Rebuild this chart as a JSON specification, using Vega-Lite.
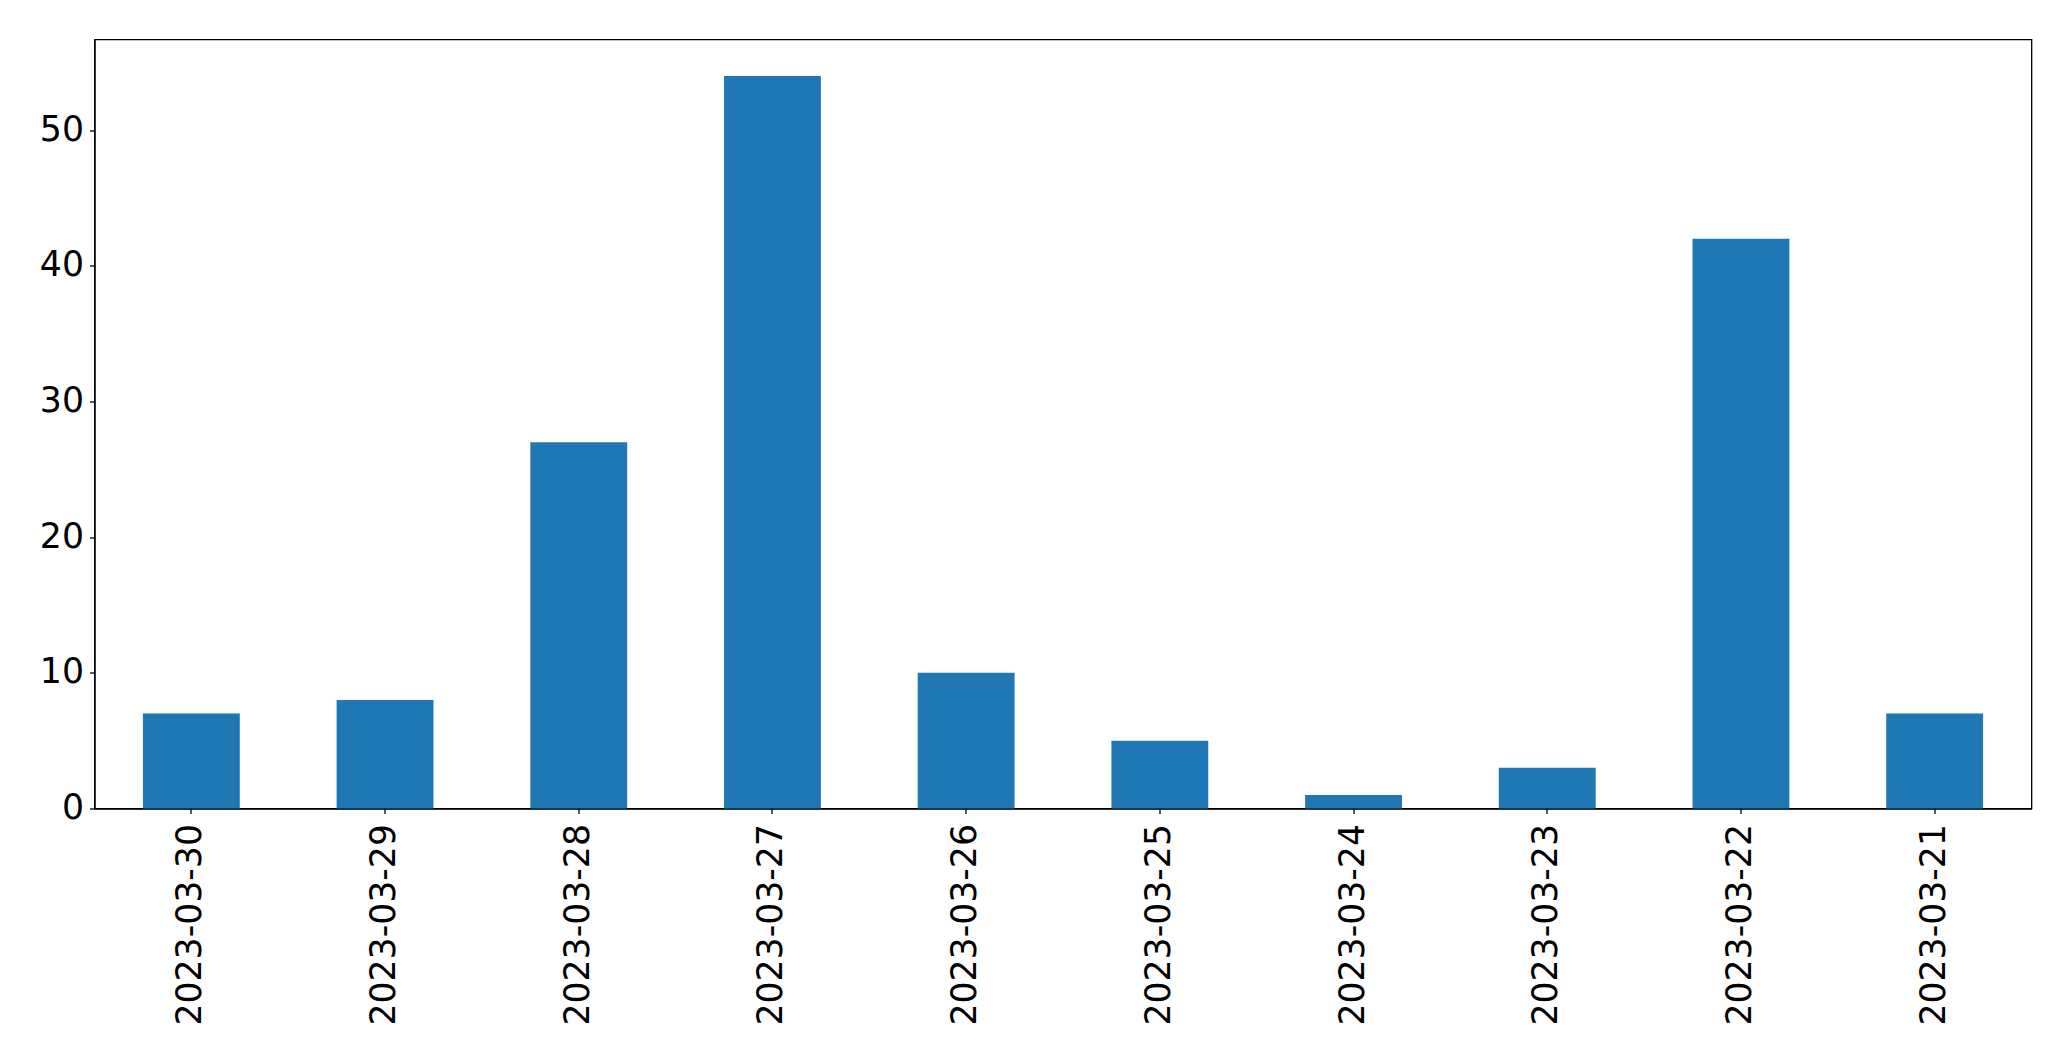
{
  "$schema": "https://vega.github.io/schema/vega-lite/v6.json",
  "autosize": {"type": "none"},
  "width": 1937,
  "height": 769,
  "padding": {"left": 94.5, "top": 39.5, "right": 40, "bottom": 253},
  "background": "white",
  "config": {
    "view": {"stroke": "black", "strokeWidth": 1.3},
    "axis": {
      "grid": false,
      "domainColor": "black",
      "domainWidth": 1.3,
      "tickColor": "black",
      "tickSize": 5,
      "tickWidth": 1.3,
      "labelFont": "DejaVu Sans",
      "labelFontSize": 34.7,
      "labelColor": "black",
      "labelLimit": 0,
      "title": null
    }
  },
  "data": {
    "values": [
      {"date": "2023-03-30", "count": 7},
      {"date": "2023-03-29", "count": 8},
      {"date": "2023-03-28", "count": 27},
      {"date": "2023-03-27", "count": 54},
      {"date": "2023-03-26", "count": 10},
      {"date": "2023-03-25", "count": 5},
      {"date": "2023-03-24", "count": 1},
      {"date": "2023-03-23", "count": 3},
      {"date": "2023-03-22", "count": 42},
      {"date": "2023-03-21", "count": 7}
    ]
  },
  "mark": {"type": "bar", "color": "#1f77b4"},
  "encoding": {
    "x": {
      "field": "date",
      "type": "nominal",
      "sort": null,
      "scale": {"paddingInner": 0.5, "paddingOuter": 0.25},
      "axis": {"labelAngle": -90, "labelAlign": "right", "labelBaseline": "middle", "labelPadding": 10}
    },
    "y": {
      "field": "count",
      "type": "quantitative",
      "scale": {"domain": [0, 56.7], "nice": false, "zero": true},
      "axis": {"values": [0, 10, 20, 30, 40, 50], "labelPadding": 6}
    }
  }
}
